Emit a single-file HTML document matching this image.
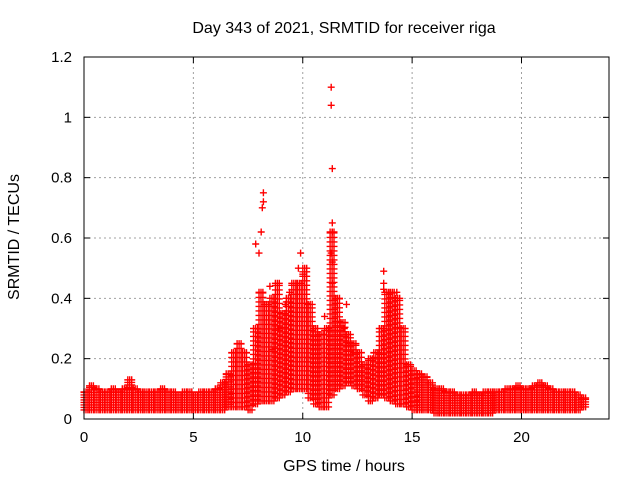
<!DOCTYPE html>
<html><head><meta charset="utf-8"><style>
body{margin:0;background:#fff}
svg{display:block;font-family:"Liberation Sans",sans-serif}
</style></head><body>
<svg id="chart" width="640" height="480">
<text x="344" y="33" text-anchor="middle" font-size="16">Day 343 of 2021, SRMTID for receiver riga</text>
<text x="344" y="471" text-anchor="middle" font-size="16">GPS time / hours</text>
<text transform="translate(19,237) rotate(-90)" text-anchor="middle" font-size="16">SRMTID / TECUs</text>
<g id="grid"></g><g id="marks"></g><g id="axes"></g>
</svg>
<script>
const xTicks=[0,5,10,15,20];
const yTicks=[0,0.2,0.4,0.6,0.8,1,1.2];
const yTickLabels=["0","0.2","0.4","0.6","0.8","1","1.2"];
const times=[0,0.25,0.5,0.75,1,1.25,1.5,1.75,2,2.25,2.5,2.75,3,3.25,3.5,3.75,4,4.25,4.5,4.75,5,5.25,5.5,5.75,6,6.25,6.5,6.75,7,7.25,7.5,7.75,8,8.25,8.5,8.75,9,9.25,9.5,9.75,10,10.25,10.5,10.75,11,11.25,11.5,11.75,12,12.25,12.5,12.75,13,13.25,13.5,13.75,14,14.25,14.5,14.75,15,15.25,15.5,15.75,16,16.25,16.5,16.75,17,17.25,17.5,17.75,18,18.25,18.5,18.75,19,19.25,19.5,19.75,20,20.25,20.5,20.75,21,21.25,21.5,21.75,22,22.25,22.5,22.75];
const highVals=[.09,.11,.10,.09,.09,.10,.09,.10,.13,.10,.09,.09,.09,.09,.10,.09,.09,.08,.09,.09,.08,.09,.09,.09,.10,.12,.15,.22,.25,.22,.18,.30,.42,.38,.40,.45,.35,.40,.45,.45,.50,.38,.30,.28,.30,.62,.40,.32,.28,.25,.22,.18,.20,.22,.30,.42,.42,.40,.30,.18,.16,.15,.14,.12,.10,.10,.09,.09,.08,.08,.08,.09,.08,.09,.09,.09,.09,.10,.10,.11,.10,.10,.11,.12,.11,.10,.09,.09,.09,.09,.08,.07];
const lowVals=[.03,.03,.03,.03,.03,.03,.03,.03,.03,.03,.03,.03,.03,.03,.03,.03,.03,.03,.03,.03,.03,.03,.03,.03,.03,.03,.04,.04,.04,.04,.03,.05,.06,.06,.06,.07,.08,.09,.10,.10,.10,.07,.05,.04,.04,.08,.10,.11,.12,.11,.10,.08,.06,.07,.08,.07,.06,.05,.05,.04,.03,.03,.03,.03,.02,.02,.02,.02,.02,.02,.02,.02,.02,.02,.02,.03,.03,.03,.03,.03,.03,.03,.03,.03,.03,.03,.03,.03,.03,.03,.03,.04];
const spikeTimes=[8.2,8.2,8.15,8.1,8.0,8.5,7.85,9.9,9.8,10,11.3,11.3,11.35,11.35,11.35,11.3,11.35,11.35,11.0,12,13.7,13.7,13.7,14.1,14.3,9.4,8.6,8.9,12.1,11.9,12.3,9.2];
const spikeVals=[.75,.72,.70,.62,.55,.44,.58,.55,.50,.48,1.10,1.04,.83,.65,.62,.55,.52,.45,.34,.38,.49,.45,.43,.42,.42,.42,.23,.30,.25,.30,.22,.38];
const X0=84,X1=609,Y0=419,Y1=57;
const xs=v=>X0+v/24*(X1-X0), ys=v=>Y0-v/1.2*(Y0-Y1);
const NS="http://www.w3.org/2000/svg";
const mk=(t,a,p)=>{const e=document.createElementNS(NS,t);for(const k in a)e.setAttribute(k,a[k]);p.appendChild(e);return e;};
const grid=document.getElementById('grid'),axes=document.getElementById('axes'),marks=document.getElementById('marks');
xTicks.forEach((t,i)=>{const x=xs(t);
 if(t>0){const g=mk('line',{x1:x,x2:x,y1:Y0,y2:Y1,stroke:'#a0a0a0','stroke-dasharray':'2,3'},grid);
 
 }
 mk('line',{x1:x,x2:x,y1:Y0,y2:Y0-6,stroke:'#000'},axes);mk('line',{x1:x,x2:x,y1:Y1,y2:Y1+6,stroke:'#000'},axes);
 const l=mk('text',{x:x,y:Y0+23,'text-anchor':'middle','font-size':15},axes);l.textContent=t;
 
 });
yTicks.forEach((t,i)=>{const y=ys(t);
 if(t>0&&t<1.2){const g=mk('line',{x1:X0,x2:X1,y1:y,y2:y,stroke:'#a0a0a0','stroke-dasharray':'2,3'},grid);
 
 }
 mk('line',{x1:X0,x2:X0+6,y1:y,y2:y,stroke:'#000'},axes);mk('line',{x1:X1,x2:X1-6,y1:y,y2:y,stroke:'#000'},axes);
 const l=mk('text',{x:X0-12,y:y+5,'text-anchor':'end','font-size':15},axes);l.textContent=yTickLabels[i];
 
 });
const fr=mk('rect',{x:X0,y:Y1,width:X1-X0,height:Y0-Y1,fill:'none',stroke:'#000','stroke-width':1},axes);


let d='';
const plus=(x,y)=>{d+=`M${(x-3.5).toFixed(1)} ${y.toFixed(1)}h7M${x.toFixed(1)} ${(y-3.5).toFixed(1)}v7`;};
times.forEach((t,i)=>{const yl=ys(lowVals[i]),yh=ys(highVals[i]);
 const dense=highVals[i]<0.16;const step=dense?2.5:4.5;
 [0,0.09,0.18].forEach(o=>{const x=xs(t+o);for(let y=yl;y>=yh;y-=step)plus(x,y);plus(x,yh);});});
spikeTimes.forEach((t,i)=>plus(xs(t),ys(spikeVals[i])));
const p=mk('path',{d:d,stroke:'#ff0000','stroke-width':1.4,fill:'none'},marks);


</script>
</body></html>
